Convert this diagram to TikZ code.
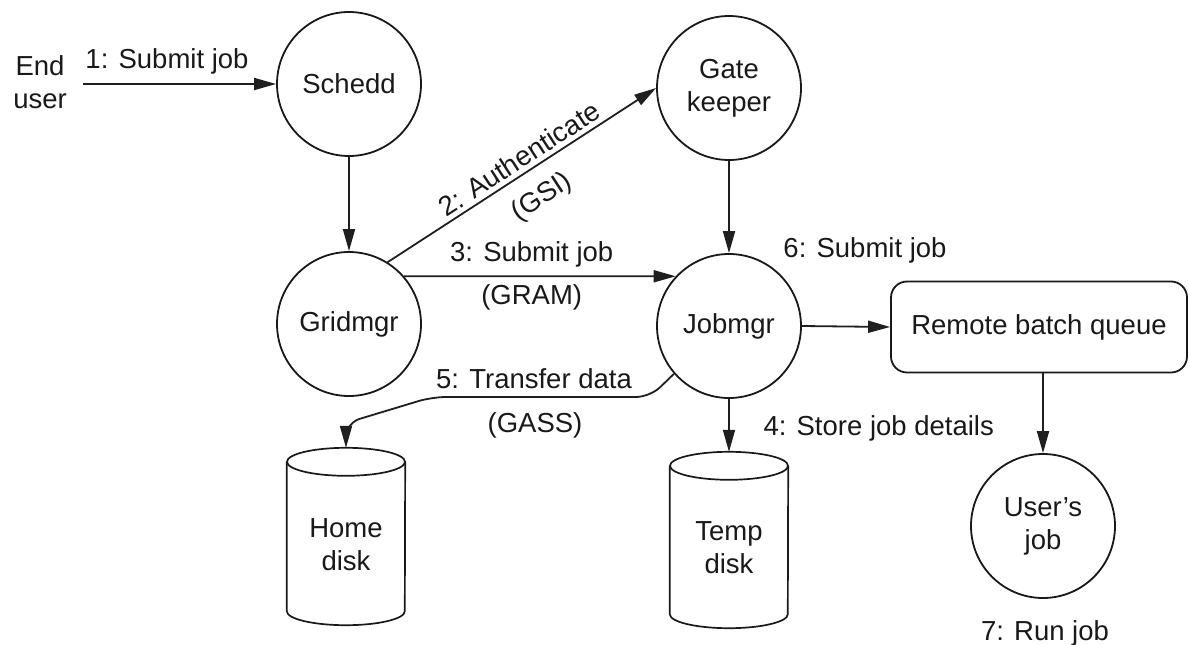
\documentclass[tikz,border=0pt]{standalone}
\usepackage{fontspec}
\setmainfont{Liberation Sans}
\usetikzlibrary{arrows.meta,calc}
\begin{document}
\begin{tikzpicture}[x=1pt,y=-1pt,
  every node/.style={font=\fontsize{27.5}{33}\selectfont, text=black!90},
  proc/.style={circle, draw=black!90, line width=1.8pt, minimum size=144pt, inner sep=0pt, align=center},
  diskbox/.style={draw=none, minimum width=118pt, inner sep=0pt},
  cyl/.style={line width=1.7pt, draw=black!90},
  arr/.style={line width=1.8pt, draw=black!88, -{Triangle[length=22pt,width=12pt]}},
]
\fill[white] (0,0) rectangle (1189,645);
\useasboundingbox (0,0) rectangle (1189,645);

% nodes
\node[align=center, inner sep=0pt] (enduser) at (40,82) {End\\user};
\node[proc] (schedd) at (349,84) {Schedd};
\node[proc] (gate) at (729,88) {Gate\\keeper};
\node[proc] (grid) at (349,324) {Gridmgr};
\node[proc] (job) at (729,326) {Jobmgr};
\node[draw=black!90, line width=1.8pt, rounded corners=16pt, minimum width=296pt, minimum height=91pt, inner sep=0pt] (rbq) at (1039,327) {Remote batch queue};
\node[proc] (ujob) at (1043,526) {User's\\job};
\node[diskbox, minimum height=177pt] (home) at (346,536.5) {};
\node[diskbox, minimum height=176pt] (temp) at (729,540) {};

% cylinders
\foreach \n in {home,temp} {
  \draw[cyl] ($(\n.north west)+(0,14)$) -- ($(\n.south west)+(0,-14)$)
     arc[start angle=180, end angle=0, x radius=59, y radius=14]
     -- ($(\n.north east)+(0,14)$);
  \draw[cyl] ($(\n.north)+(0,14)$) ellipse[x radius=59, y radius=14];
}
\node[align=center] (hometext) at ([yshift=-8pt]home.center) {Home\\disk};
\node[align=center] (temptext) at ([yshift=-8pt]temp.center) {Temp\\disk};

% connectors
\coordinate (eu) at (83,84);
\draw[arr] (eu) -- (schedd.west);
\node[anchor=base] (l1) at (167,68) {1: Submit job};

\draw[arr] (schedd.south) -- (grid.north);
\draw[arr] (gate.south) -- (job.north);

\draw[arr] (grid.58) -- (gate.west)
  node[pos=0.52, sloped, above=1pt] (l2) {2: Authenticate}
  node[pos=0.515, sloped, below=13pt] (l2b) {(GSI)};

\draw[arr] (grid.41) -- (job.137)
  node[pos=0.47, above=5pt] (l3) {3: Submit job}
  node[pos=0.47, below=4pt] (l3b) {(GRAM)};

\draw[arr] (job.east) -- (rbq.west);
\node[anchor=base] (l6) at (865,257) {6: Submit job};

\draw[arr] (job.south) -- (temp.north);
\node[anchor=base west] (l4) at (760,435) {4: Store job details};

\draw[arr, rounded corners=14pt] (job.221) -- (650,397) -- (432,397) -- (346,423) -- (home.north);
\node[anchor=base] (l5) at (534,388) {5: Transfer data};
\node (l5b) at (535,425) {(GASS)};

\draw[arr] (ujob.north |- rbq.south) -- (ujob.north);
\node[anchor=base] (l7) at (1045,640) {7: Run job};
\end{tikzpicture}
\end{document}
